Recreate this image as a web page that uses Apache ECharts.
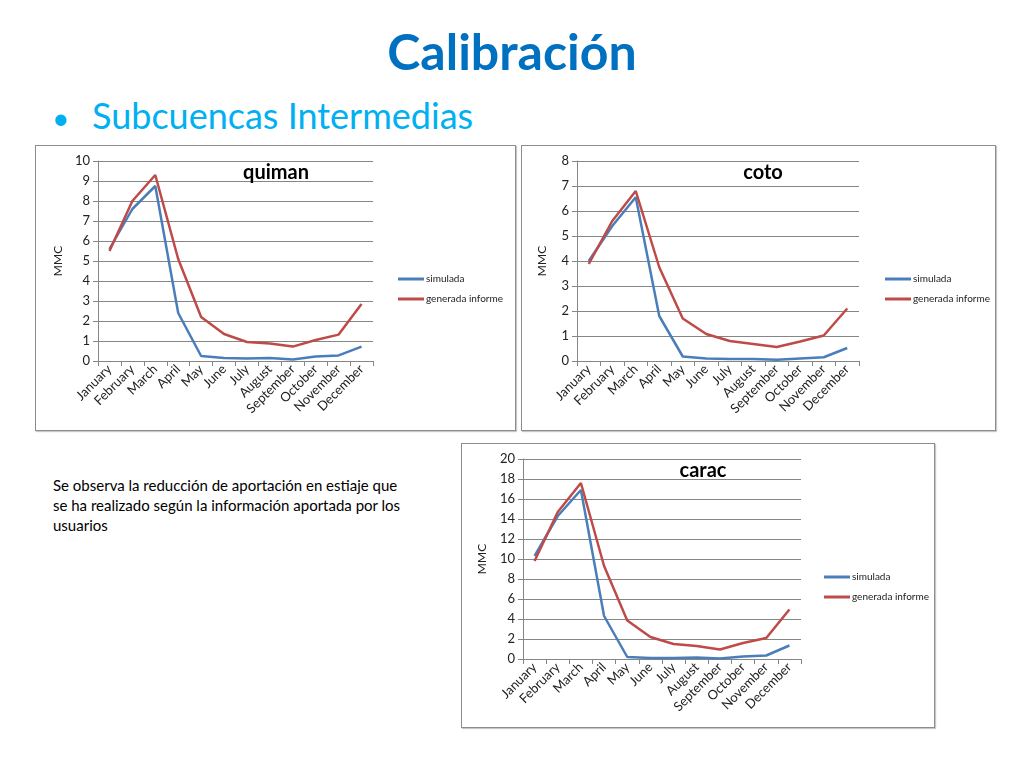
<!DOCTYPE html>
<html>
<head>
<meta charset="utf-8">
<script src="https://cdn.jsdelivr.net/npm/echarts@6/dist/echarts.min.js"></script>
<style>
  body { margin: 0; width: 1024px; height: 768px; background: #fff; position: relative; overflow: hidden; font-family: Lato, "Open Sans", sans-serif; }
  .title { position: absolute; left: 0; width: 1024px; top: 21px; text-align: center; font-size: 50px; font-weight: bold; color: #0070C0; }
  .bullet { position: absolute; left: 52px; top: 93px; font-size: 36px; color: #00B0F0; white-space: nowrap; }
  .bullet span { display: inline-block; width: 40px; font-size: 30px; }
  .note { position: absolute; left: 53px; top: 475px; font-size: 15px; line-height: 20px; color: #000; white-space: nowrap; }
  .box { position: absolute; border: 1px solid #8c8c8c; box-shadow: 1px 1px 1px #c8c8c8; background: #fff; }
</style>
</head>
<body>
<div class="title">Calibración</div>
<div class="bullet"><span>•</span>Subcuencas Intermedias</div>
<div class="note">Se observa la reducción de aportación en estiaje que<br>se ha realizado según la información aportada por los<br>usuarios</div>
<div id="quiman" class="box" style="left:35px;top:145px;width:479px;height:284px;"></div>
<div id="coto" class="box" style="left:521px;top:145px;width:473px;height:284px;"></div>
<div id="carac" class="box" style="left:461px;top:443px;width:472px;height:283px;"></div>
<script>
// meses (eje x)
const months = ['January', 'February', 'March', 'April', 'May', 'June', 'July',
  'August', 'September', 'October', 'November', 'December'];

// quiman
const quimanSimulada = [5.6, 7.6, 8.75, 2.4, 0.25, 0.15, 0.12, 0.15, 0.08, 0.22, 0.28, 0.72];
const quimanGenerada = [5.5, 8.0, 9.3, 5.1, 2.2, 1.35, 0.95, 0.88, 0.72, 1.05, 1.32, 2.85];

// coto
const cotoSimulada = [4.0, 5.4, 6.55, 1.8, 0.18, 0.1, 0.08, 0.08, 0.05, 0.1, 0.15, 0.52];
const cotoGenerada = [3.88, 5.6, 6.8, 3.75, 1.7, 1.08, 0.8, 0.68, 0.56, 0.78, 1.02, 2.1];

// carac
const caracSimulada = [10.3, 14.3, 16.9, 4.3, 0.2, 0.1, 0.1, 0.15, 0.05, 0.25, 0.35, 1.35];
const caracGenerada = [9.8, 14.7, 17.6, 9.3, 3.85, 2.2, 1.5, 1.3, 0.95, 1.6, 2.1, 4.95];

function drawChart(id, name, simulada, generada, yMax, yStep, layout) {
  const chart = echarts.init(document.getElementById(id));
  const axisGray = '#868686';
  chart.setOption({
    animation: false,
    textStyle: { fontFamily: 'Lato, "Open Sans", sans-serif' },
    title: {
      text: name,
      left: layout.titleX,
      top: 12,
      textAlign: 'center',
      textStyle: { fontSize: 20, fontWeight: 'bold', color: '#000', fontFamily: 'Lato, sans-serif' }
    },
    legend: {
      orient: 'vertical',
      left: layout.legendX,
      top: layout.legendY,
      icon: 'rect',
      itemWidth: 26,
      itemHeight: 3,
      itemGap: 10,
      textStyle: { fontSize: 10, color: '#222', padding: [0, 0, 0, -3] },
      data: ['simulada', 'generada informe']
    },
    grid: { left: layout.left, right: layout.right, top: 15, bottom: layout.bottom },
    xAxis: {
      type: 'category',
      data: months,
      boundaryGap: true,
      axisLine: { lineStyle: { color: axisGray } },
      axisTick: { show: true, length: 5, lineStyle: { color: axisGray } },
      axisLabel: { rotate: 45, fontSize: 13, color: '#222', margin: 6, interval: 0 }
    },
    yAxis: {
      type: 'value',
      min: 0,
      max: yMax,
      interval: yStep,
      name: 'MMC',
      nameLocation: 'middle',
      nameGap: layout.nameGap,
      nameTextStyle: { fontSize: 12, color: '#222' },
      axisLine: { show: true, lineStyle: { color: axisGray } },
      axisTick: { show: true, length: 5, lineStyle: { color: axisGray } },
      axisLabel: { fontSize: 13, color: '#222', margin: 8 },
      splitLine: { lineStyle: { color: axisGray, width: 1 } }
    },
    series: [
      {
        name: 'simulada',
        type: 'line',
        data: simulada,
        symbol: 'none',
        lineStyle: { width: 2.5, color: '#4A7EBB' },
        itemStyle: { color: '#4A7EBB' }
      },
      {
        name: 'generada informe',
        type: 'line',
        data: generada,
        symbol: 'none',
        lineStyle: { width: 2.5, color: '#BE4B48' },
        itemStyle: { color: '#BE4B48' }
      }
    ]
  });
}

drawChart('quiman', 'quiman', quimanSimulada, quimanGenerada, 10, 1,
  { left: 62, right: 142, bottom: 69, titleX: 235, legendX: 357, legendY: 123, nameGap: 34 });
drawChart('coto', 'coto', cotoSimulada, cotoGenerada, 8, 1,
  { left: 55, right: 136, bottom: 69, titleX: 236, legendX: 358, legendY: 123, nameGap: 29 });
drawChart('carac', 'carac', caracSimulada, caracGenerada, 20, 2,
  { left: 61, right: 133, bottom: 68, titleX: 236, legendX: 357, legendY: 123, nameGap: 35 });
</script>
</body>
</html>
